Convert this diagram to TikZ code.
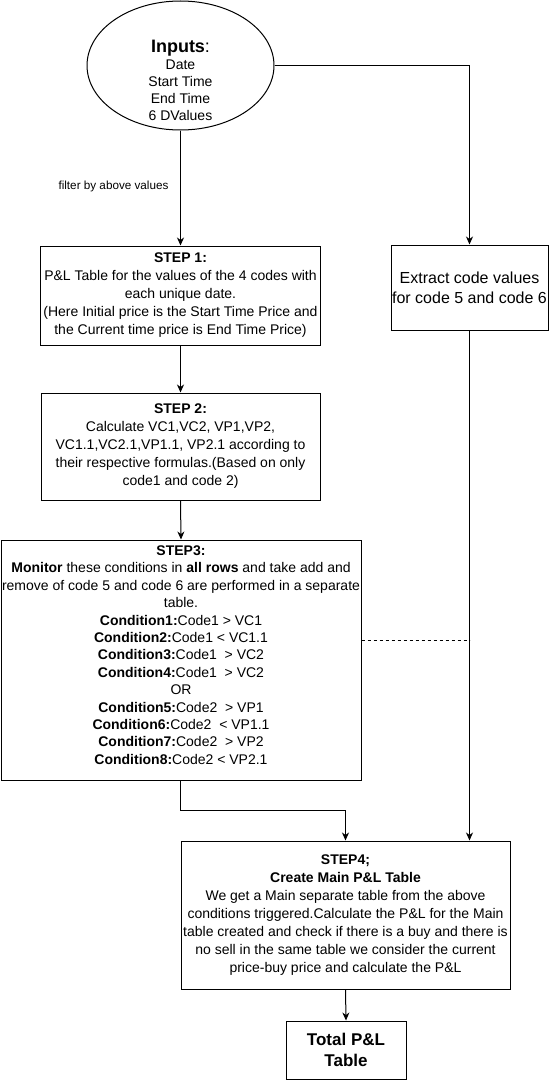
\documentclass[tikz,border=0pt]{standalone}
\usepackage{fontspec}
\setmainfont{Liberation Sans}
\usetikzlibrary{shapes.geometric,arrows.meta}
\begin{document}
\begin{tikzpicture}[x=1pt,y=-1pt,
  box/.style={draw, line width=1pt, rectangle, inner sep=0pt, align=center,
    font=\fontsize{14}{18}\selectfont},
  arr/.style={line width=1pt, -{Stealth[length=8pt,width=7pt,inset=2.5pt]}},
  conn/.style={line width=1pt},
  dashln/.style={line width=1pt, dash pattern=on 3pt off 3pt}
]
\useasboundingbox (0,0) rectangle (550,1081);

% Inputs ellipse
\node[ellipse, draw, line width=1pt, minimum width=187pt, minimum height=129pt, inner sep=0pt] (inputs) at (180.5,65.5) {};
\node[align=center, inner sep=0pt, font=\fontsize{14}{17}\selectfont] (inputstext) at (180.5,80.5)
  {{\fontsize{18}{17}\selectfont\textbf{Inputs}:}\\Date\\Start Time\\End Time\\6 DValues};

% label
\node[inner sep=0pt, font=\fontsize{11.7}{14}\selectfont] (filterlbl) at (113.5,186) {filter by above values};

% Step 1
\node[box, minimum width=280pt, minimum height=99pt] (step1) at (180.5,295.5)
  {\textbf{STEP 1:}\\P\&L Table for the values of the 4 codes with\\each unique date.\\(Here Initial price is the Start Time Price and\\the Current time price is End Time Price)};

% Extract
\node[box, minimum width=157pt, minimum height=85pt, font=\fontsize{16}{20}\selectfont] (extract) at (469.5,287.5)
  {Extract code values\\for code 5 and code 6};

% Step 2
\node[box, minimum width=279pt, minimum height=107pt] (step2) at (180.5,446.5)
  {\textbf{STEP 2:}\\Calculate VC1,VC2, VP1,VP2,\\VC1.1,VC2.1,VP1.1, VP2.1 according to\\their respective formulas.(Based on only\\code1 and code 2)};

% Step 3
\node[box, minimum width=360pt, minimum height=240pt, font=\fontsize{14}{17.4}\selectfont] (step3) at (181,660)
  {\textbf{STEP3:}\\
   \textbf{Monitor} these conditions in \textbf{all rows} and take add and\\
   remove of code 5 and code 6 are performed in a separate\\
   table.\\
   \textbf{Condition1:}Code1 > VC1\\
   \textbf{Condition2:}Code1 < VC1.1\\
   \textbf{Condition3:}Code1 \ > VC2\\
   \textbf{Condition4:}Code1 \ > VC2\\
   OR\\
   \textbf{Condition5:}Code2 \ > VP1\\
   \textbf{Condition6:}Code2 \ < VP1.1\\
   \textbf{Condition7:}Code2 \ > VP2\\
   \textbf{Condition8:}Code2 < VP2.1\\[-7.4pt]\mbox{}};

% Step 4
\node[box, minimum width=329pt, minimum height=148pt] (step4) at (345.5,915)
  {\textbf{STEP4;}\\\textbf{Create Main P\&L Table}\\We get a Main separate table from the above\\conditions triggered.Calculate the P\&L for the Main\\table created and check if there is a buy and there is\\no sell in the same table we consider the current\\price-buy price and calculate the P\&L};

% Total
\node[box, minimum width=120pt, minimum height=58pt, font=\fontsize{17}{21}\selectfont\bfseries] (total) at (346,1050)
  {Total P\&L\\Table};

% helper coordinates
\coordinate (bend) at (180.5,810);
\coordinate (dashy) at (0,640);

% connectors
\draw[arr] (inputs.south) -- (step1.north);
\draw[arr] (inputs.east) -| (extract.north);
\draw[arr] (step1.south) -- (step2.north);
\draw[arr] (step2.south) -- (step3.north);
\draw[arr] (step3.south -| bend) -- (bend) -| (step4.north);
\draw[arr] (extract.south) -- (extract.south |- step4.north);
\draw[dashln] (step3.east |- dashy) -- (extract.south |- dashy);
\draw[arr] (step4.south) -- (total.north);
\end{tikzpicture}
\end{document}
